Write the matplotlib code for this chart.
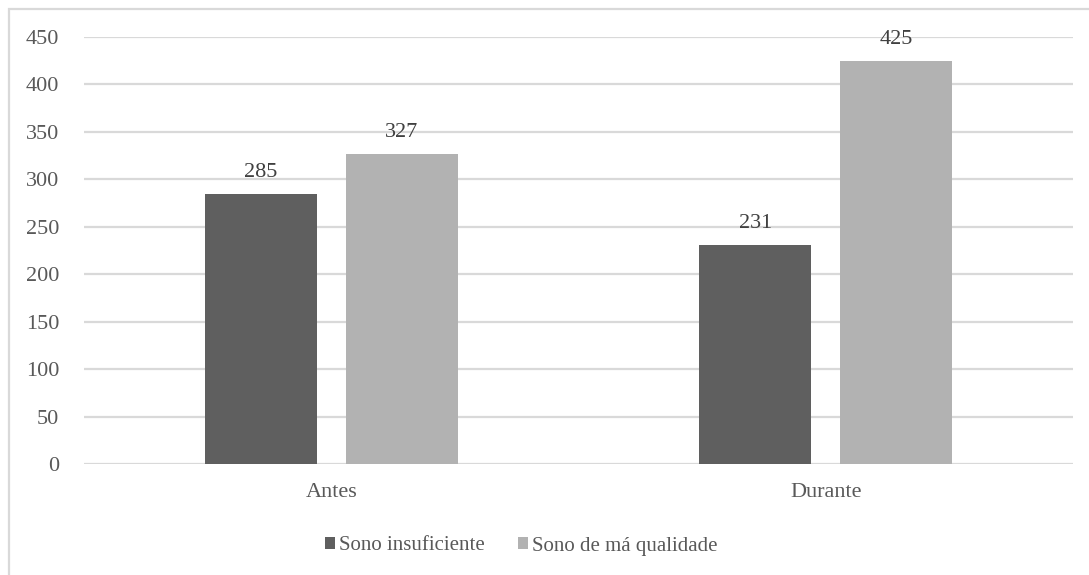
import matplotlib.pyplot as plt
import numpy as np
from matplotlib.patches import Rectangle

# Data
periods = ['Antes', 'Durante']
series_names = ['Sono insuficiente', 'Sono de má qualidade']
sono_insuficiente = [285, 231]
sono_ma_qualidade = [327, 425]
y_ticks = [0, 50, 100, 150, 200, 250, 300, 350, 400, 450]

colors = ['#5f5f5f', '#b2b2b2']
text_color = '#595959'
label_color = '#404040'
grid_color = '#d9d9d9'

plt.rcParams['font.family'] = ['Liberation Serif', 'DejaVu Serif']

W, H = 1089, 575
fig = plt.figure(figsize=(W / 100, H / 100), dpi=100)

# Chart area frame
fig.patches.append(Rectangle((8.5 / W, -0.05), 1.2, 1.05 - 8.5 / H, transform=fig.transFigure,
                             fill=False, edgecolor=grid_color, linewidth=1.6))

ax = fig.add_axes([84 / W, 111 / H, (1073 - 84) / W, 427 / H])

x = np.arange(len(periods))
width = 0.2265
offset = 0.1426
bars1 = ax.bar(x - offset, sono_insuficiente, width, color=colors[0], label=series_names[0], zorder=2)
bars2 = ax.bar(x + offset, sono_ma_qualidade, width, color=colors[1], label=series_names[1], zorder=2)

for bars in (bars1, bars2):
    for b in bars:
        ax.annotate(f'{int(b.get_height())}', (b.get_x() + b.get_width() / 2, b.get_height()),
                    xytext=(0, 8.5), textcoords='offset points', ha='center', va='bottom',
                    fontsize=16, color=label_color)

ax.set_xlim(-0.5, 1.5)
ax.set_ylim(0, 450)
ax.set_yticks(y_ticks)
ax.set_xticks(x)
ax.set_xticklabels(periods)
ax.tick_params(axis='both', length=0, labelsize=16, labelcolor=text_color)
ax.tick_params(axis='y', pad=18)
ax.tick_params(axis='x', pad=14)
ax.yaxis.grid(True, color=grid_color, linewidth=1.6, zorder=0)
ax.set_axisbelow(True)
for s in ax.spines.values():
    s.set_visible(False)

fig.legend(loc='center', bbox_to_anchor=(521 / W, 1 - 546 / H), ncol=2, frameon=False,
           fontsize=15, labelcolor=text_color, handlelength=0.47, handleheight=0.47,
           handletextpad=0.2, columnspacing=1.6)

fig.savefig('out.png', dpi=100)
